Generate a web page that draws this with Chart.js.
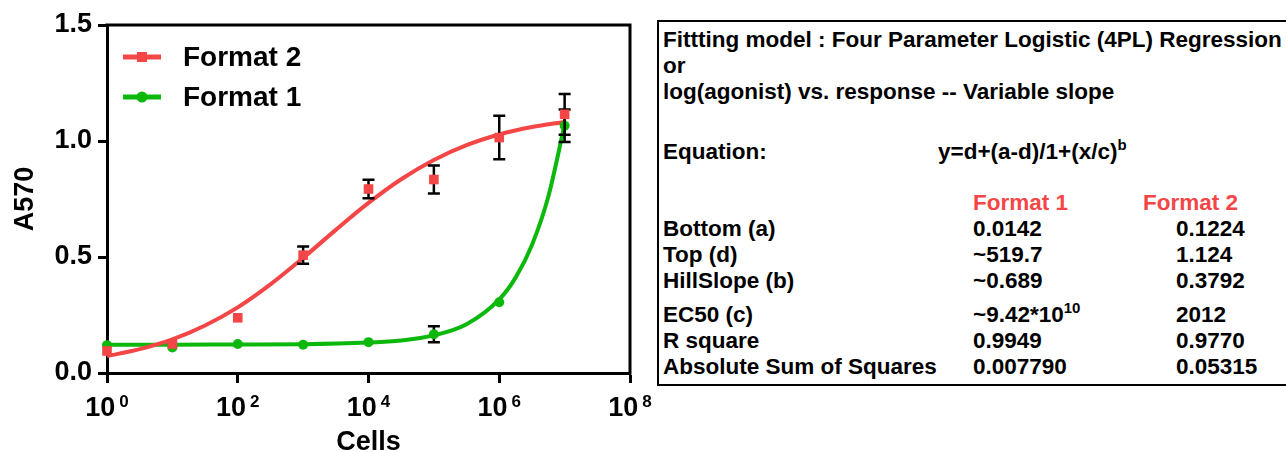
<!DOCTYPE html>
<html>
<head>
<meta charset="utf-8">
<script src="https://cdn.jsdelivr.net/npm/chart.js@4.4.1/dist/chart.umd.min.js"></script>
<style>
  html, body { margin: 0; padding: 0; background: #fff; }
  body { width: 1286px; height: 452px; position: relative; overflow: hidden;
         font-family: "Liberation Sans", Arial, sans-serif; font-weight: bold; color: #000; }
  #plot { position: absolute; left: 0; top: 0; width: 656px; height: 452px; }
  #fit { position: absolute; left: 657px; top: 20px; width: 700px; height: 362px; border: 2px solid #000; }
  #fit .ln { position: absolute; white-space: nowrap; font-size: 22.5px; line-height: 26px; }
  #fit .red { color: #f44646; }
  #fit sup { font-size: 15px; vertical-align: 9px; line-height: 0; }
</style>
</head>
<body>
<div id="plot"><canvas id="chart" width="656" height="452"></canvas></div>

<div id="fit">
  <div class="ln" style="left:4px;top:5px">Fittting model : Four Parameter Logistic (4PL) Regression</div>
  <div class="ln" style="left:4px;top:31px">or</div>
  <div class="ln" style="left:4px;top:57px">log(agonist) vs. response -- Variable slope</div>
  <div class="ln" style="left:4px;top:117px">Equation:</div>
  <div class="ln" style="left:279px;top:117px">y=d+(a-d)/1+(x/c)<sup>b</sup></div>
  <div class="ln red" style="left:314px;top:168px">Format 1</div>
  <div class="ln red" style="left:484px;top:168px">Format 2</div>
  <div class="ln" style="left:4px;top:194px">Bottom (a)</div>
  <div class="ln" style="left:314px;top:194px">0.0142</div>
  <div class="ln" style="left:517px;top:194px">0.1224</div>
  <div class="ln" style="left:4px;top:220px">Top (d)</div>
  <div class="ln" style="left:314px;top:220px">~519.7</div>
  <div class="ln" style="left:517px;top:220px">1.124</div>
  <div class="ln" style="left:4px;top:246px">HillSlope (b)</div>
  <div class="ln" style="left:314px;top:246px">~0.689</div>
  <div class="ln" style="left:517px;top:246px">0.3792</div>
  <div class="ln" style="left:4px;top:280px">EC50 (c)</div>
  <div class="ln" style="left:314px;top:280px">~9.42*10<sup>10</sup></div>
  <div class="ln" style="left:517px;top:280px">2012</div>
  <div class="ln" style="left:4px;top:306px">R square</div>
  <div class="ln" style="left:314px;top:306px">0.9949</div>
  <div class="ln" style="left:517px;top:306px">0.9770</div>
  <div class="ln" style="left:4px;top:332px">Absolute Sum of Squares</div>
  <div class="ln" style="left:314px;top:332px">0.007790</div>
  <div class="ln" style="left:517px;top:332px">0.05315</div>
</div>

<script>
// measured points
var cells = [1, 10, 100, 1000, 10000, 100000, 1000000, 10000000]
var format2Mean = [0.095, 0.125, 0.238, 0.508, 0.793, 0.834, 1.015, 1.115]
var format2Err = [0, 0, 0, 0.037, 0.040, 0.060, 0.094, 0.088]
var format1Mean = [0.120, 0.110, 0.125, 0.122, 0.133, 0.167, 0.305, 1.066]
var format1Err = [0, 0, 0, 0, 0, 0.034, 0, 0.070]

// fitted curves (x as log10 of cells)
var format2FitLog = [0, 0.5, 1, 1.5, 2, 2.5, 3, 3.5, 4, 4.5, 5, 5.5, 6, 6.5, 7]
var format2FitY = [0.073, 0.103, 0.145, 0.205, 0.283, 0.382, 0.496, 0.617, 0.733, 0.835, 0.918, 0.982, 1.028, 1.060, 1.082]
var format1FitLog = [0, 1, 2, 3, 4, 4.5, 5, 5.5, 6, 6.25, 6.5, 6.75, 7]
var format1FitY = [0.122, 0.122, 0.123, 0.124, 0.131, 0.140, 0.162, 0.210, 0.317, 0.411, 0.552, 0.760, 1.071]

var seriesNames = ['Format 2', 'Format 1']
var seriesColors = ['#f44646', '#0db80d']
var seriesMarkers = ['rect', 'circle']

var xTickExp = [0, 2, 4, 6, 8]
var yTicks = [0, 0.5, 1.0, 1.5]
var yTickLabels = ['0.0', '0.5', '1.0', '1.5']

var FONT = '"Liberation Sans", Arial, sans-serif'

function pts(xs, ys) {
  return xs.map(function (x, i) { return { x: x, y: ys[i] } })
}
function logPts(ls, ys) {
  return ls.map(function (l, i) { return { x: Math.pow(10, l), y: ys[i] } })
}

// error bars, drawn just before each point set so markers sit on top
var errorBars = {
  id: 'errorBars',
  beforeDatasetDraw: function (chart, args) {
    var ds = chart.data.datasets[args.index]
    if (!ds.errors) return
    var ctx = chart.ctx
    var xs = chart.scales.x, ys = chart.scales.y
    ctx.save()
    ctx.strokeStyle = '#000'
    ctx.lineWidth = 2.5
    ds.data.forEach(function (p, i) {
      var e = ds.errors[i]
      if (!e) return
      var x = xs.getPixelForValue(p.x)
      var top = ys.getPixelForValue(p.y + e)
      var bot = ys.getPixelForValue(p.y - e)
      ctx.beginPath()
      ctx.moveTo(x, top); ctx.lineTo(x, bot)
      ctx.moveTo(x - 6, top); ctx.lineTo(x + 6, top)
      ctx.moveTo(x - 6, bot); ctx.lineTo(x + 6, bot)
      ctx.stroke()
    })
    ctx.restore()
  }
}

// top/right frame, x tick labels with exponents, inner legend
var decor = {
  id: 'decor',
  beforeDatasetsDraw: function (chart) {
    var a = chart.chartArea, ctx = chart.ctx
    ctx.save()
    ctx.strokeStyle = '#000'
    ctx.lineWidth = 3
    ctx.beginPath()
    ctx.moveTo(a.left - 1.5, a.top)
    ctx.lineTo(a.right, a.top)
    ctx.lineTo(a.right, a.bottom + 1.5)
    ctx.stroke()
    ctx.restore()
  },
  afterDraw: function (chart) {
    var a = chart.chartArea, ctx = chart.ctx
    var xs = chart.scales.x
    ctx.save()
    ctx.fillStyle = '#000'
    ctx.textBaseline = 'alphabetic'
    xTickExp.forEach(function (e) {
      var x = xs.getPixelForValue(Math.pow(10, e))
      ctx.font = 'bold 27px ' + FONT
      var w1 = ctx.measureText('10').width
      ctx.font = 'bold 17px ' + FONT
      var w2 = ctx.measureText(String(e)).width
      var gap = 4
      var start = x - (w1 + gap + w2) / 2
      ctx.font = 'bold 27px ' + FONT
      ctx.fillText('10', start, a.bottom + 43)
      ctx.font = 'bold 17px ' + FONT
      ctx.fillText(String(e), start + w1 + gap, a.bottom + 34)
    })

    seriesNames.forEach(function (name, i) {
      var y = a.top + 32 + i * 40
      var x0 = a.left + 16, x1 = a.left + 54
      ctx.strokeStyle = seriesColors[i]
      ctx.fillStyle = seriesColors[i]
      ctx.lineWidth = 5
      ctx.beginPath(); ctx.moveTo(x0, y); ctx.lineTo(x1, y); ctx.stroke()
      var cx = (x0 + x1) / 2
      if (seriesMarkers[i] === 'rect') {
        ctx.fillRect(cx - 5, y - 5, 10, 10)
      } else {
        ctx.beginPath(); ctx.arc(cx, y, 5.5, 0, Math.PI * 2); ctx.fill()
      }
      ctx.fillStyle = '#000'
      ctx.font = 'bold 28px ' + FONT
      ctx.textBaseline = 'middle'
      ctx.fillText(name, a.left + 76, y + 1)
    })
    ctx.restore()
  }
}

var ctx = document.getElementById('chart').getContext('2d')
var chart = new Chart(ctx, {
  type: 'line',
  data: {
    datasets: [
      {
        label: seriesNames[0], data: pts(cells, format2Mean), errors: format2Err,
        showLine: false, pointStyle: 'rect', pointRadius: 6.8,
        pointBackgroundColor: seriesColors[0], pointBorderWidth: 0, clip: false
      },
      {
        label: seriesNames[1], data: pts(cells, format1Mean), errors: format1Err,
        showLine: false, pointStyle: 'circle', pointRadius: 5,
        pointBackgroundColor: seriesColors[1], pointBorderWidth: 0, clip: false
      },
      {
        label: seriesNames[0] + ' fit', data: logPts(format2FitLog, format2FitY),
        borderColor: seriesColors[0], borderWidth: 4, pointRadius: 0,
        cubicInterpolationMode: 'monotone', fill: false, clip: false
      },
      {
        label: seriesNames[1] + ' fit', data: logPts(format1FitLog, format1FitY),
        borderColor: seriesColors[1], borderWidth: 4, pointRadius: 0,
        cubicInterpolationMode: 'monotone', fill: false, clip: false
      }
    ]
  },
  options: {
    responsive: false,
    animation: false,
    events: [],
    layout: { autoPadding: false, padding: { left: 0, right: 26, top: 25, bottom: 0 } },
    plugins: { legend: { display: false }, tooltip: { enabled: false } },
    scales: {
      x: {
        type: 'logarithmic', min: 1, max: 1e8,
        afterBuildTicks: function (s) {
          s.ticks = xTickExp.map(function (e) { return { value: Math.pow(10, e) } })
        },
        afterFit: function (s) { s.height = 79 },
        ticks: { display: false },
        grid: { drawOnChartArea: false, drawTicks: true, tickLength: 10, tickWidth: 3, tickColor: '#000' },
        border: { display: true, width: 3, color: '#000' },
        title: {
          display: true, text: 'Cells', color: '#000',
          font: { family: FONT, size: 27, weight: 'bold' }, padding: { top: -7, bottom: -7 }
        }
      },
      y: {
        min: 0, max: 1.5,
        afterBuildTicks: function (s) {
          s.ticks = yTicks.map(function (v) { return { value: v } })
        },
        afterFit: function (s) { s.width = 107 },
        ticks: {
          color: '#000', padding: 6,
          font: { family: FONT, size: 27, weight: 'bold' },
          callback: function (v) { return yTickLabels[yTicks.indexOf(v)] }
        },
        grid: { drawOnChartArea: false, drawTicks: true, tickLength: 9, tickWidth: 3, tickColor: '#000' },
        border: { display: true, width: 3, color: '#000' },
        title: {
          display: true, text: 'A570', color: '#000',
          font: { family: FONT, size: 27, weight: 'bold' }, padding: { top: 9, bottom: 0 }
        }
      }
    }
  },
  plugins: [errorBars, decor]
})
</script>
</body>
</html>
